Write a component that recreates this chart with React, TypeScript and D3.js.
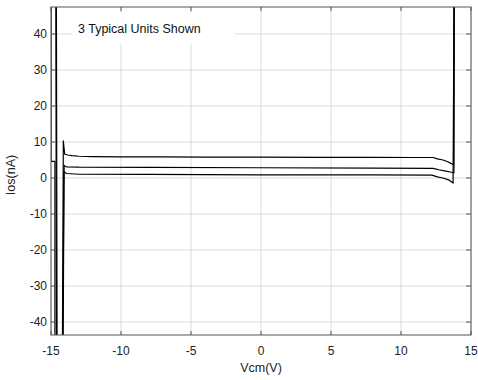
import { line, scaleLinear } from "d3";

const xTicks = [-15, -10, -5, 0, 5, 10, 15];
const yTicks = [-40, -30, -20, -10, 0, 10, 20, 30, 40];

const unitA: [number, number][] = [
  [-15.0, 60], [-15.0, 4.6], [-14.72, 4.6], [-14.72, -60], [-14.2, -60],
  [-14.12, 10.3], [-14.02, 6.6], [-13.8, 6.4], [-13.5, 6.2], [-13, 6.05],
  [-12, 5.95], [-10, 5.9], [-7, 5.85], [-4, 5.8], [0, 5.8], [4, 5.75],
  [8, 5.72], [11, 5.7], [12.3, 5.7], [12.6, 5.3], [13.0, 5.0], [13.3, 4.6],
  [13.6, 4.0], [13.76, 3.6], [13.8, 60],
];
const unitB: [number, number][] = [
  [-14.62, 60], [-14.56, -60], [-14.16, -60], [-14.06, 3.5], [-13.9, 3.1],
  [-13, 3.0], [-8, 2.95], [0, 2.85], [8, 2.75], [12.3, 2.7], [12.7, 2.3],
  [13.2, 1.9], [13.6, 1.6], [13.78, 1.4], [13.81, 60],
];
const unitC: [number, number][] = [
  [-14.66, 60], [-14.6, -60], [-14.18, -60], [-14.08, 1.8], [-13.9, 1.25],
  [-13, 1.05], [-8, 1.0], [0, 0.9], [8, 0.85], [12.2, 0.8], [12.6, 0.3],
  [13.0, 0.0], [13.4, -0.5], [13.72, -1.4], [13.8, 60],
];
const units = [unitA, unitB, unitC];
const legendText = "3 Typical Units Shown";

export default function App() {
  const width = 478;
  const height = 380;
  const margin = { top: 7, right: 7, bottom: 45, left: 51 };
  const innerW = width - margin.left - margin.right;
  const innerH = height - margin.top - margin.bottom;

  const x = scaleLinear().domain([-15, 15]).range([0, innerW]);
  const y = scaleLinear().domain([-43.6, 47.5]).range([innerH, 0]);
  const path = line<[number, number]>()
    .x((d) => x(d[0]))
    .y((d) => y(d[1]));

  const font = "'Liberation Sans', Arial, sans-serif";
  const frame = "#555";

  return (
    <svg
      width={width}
      height={height}
      style={{ position: "absolute", left: 0, top: 0, background: "#fff" }}
      fontFamily={font}
    >
      <defs>
        <clipPath id="plot">
          <rect width={innerW} height={innerH} />
        </clipPath>
      </defs>
      <g transform={`translate(${margin.left},${margin.top})`}>
        {xTicks.map((t) => (
          <line key={`gx${t}`} x1={x(t)} x2={x(t)} y1={0} y2={innerH} stroke="#dcdcdc" />
        ))}
        {yTicks.map((t) => (
          <line key={`gy${t}`} x1={0} x2={innerW} y1={y(t)} y2={y(t)} stroke="#dcdcdc" />
        ))}
        <rect x={21} y={6} width={163} height={31} fill="#fff" />
        <text x={27} y={26} fontSize={12.5} fill="#111">
          {legendText}
        </text>
        <g clipPath="url(#plot)" fill="none" stroke="#000" strokeWidth={1.2} strokeLinejoin="round">
          {units.map((u, i) => (
            <path key={i} d={path(u) ?? ""} />
          ))}
        </g>
        <rect x={0} y={0} width={innerW} height={innerH} fill="none" stroke={frame} />
        {xTicks.map((t) => (
          <g key={`tx${t}`}>
            <line x1={x(t)} x2={x(t)} y1={innerH} y2={innerH - 4} stroke={frame} />
            <line x1={x(t)} x2={x(t)} y1={0} y2={4} stroke={frame} />
            <text x={x(t)} y={innerH + 20} fontSize={12} textAnchor="middle" fill="#222">
              {t}
            </text>
          </g>
        ))}
        {yTicks.map((t) => (
          <g key={`ty${t}`}>
            <line x1={0} x2={4} y1={y(t)} y2={y(t)} stroke={frame} />
            <line x1={innerW} x2={innerW - 5} y1={y(t)} y2={y(t)} stroke={frame} />
            <text x={-4} y={y(t)} dy="0.35em" fontSize={12} textAnchor="end" fill="#222">
              {t}
            </text>
          </g>
        ))}
        <text x={innerW / 2} y={innerH + 37} fontSize={12.5} textAnchor="middle" fill="#222">
          Vcm(V)
        </text>
        <text
          transform={`translate(${-36},${innerH / 2 + 4}) rotate(-90)`}
          fontSize={12.5}
          textAnchor="middle"
          fill="#222"
        >
          Ios(nA)
        </text>
      </g>
    </svg>
  );
}
